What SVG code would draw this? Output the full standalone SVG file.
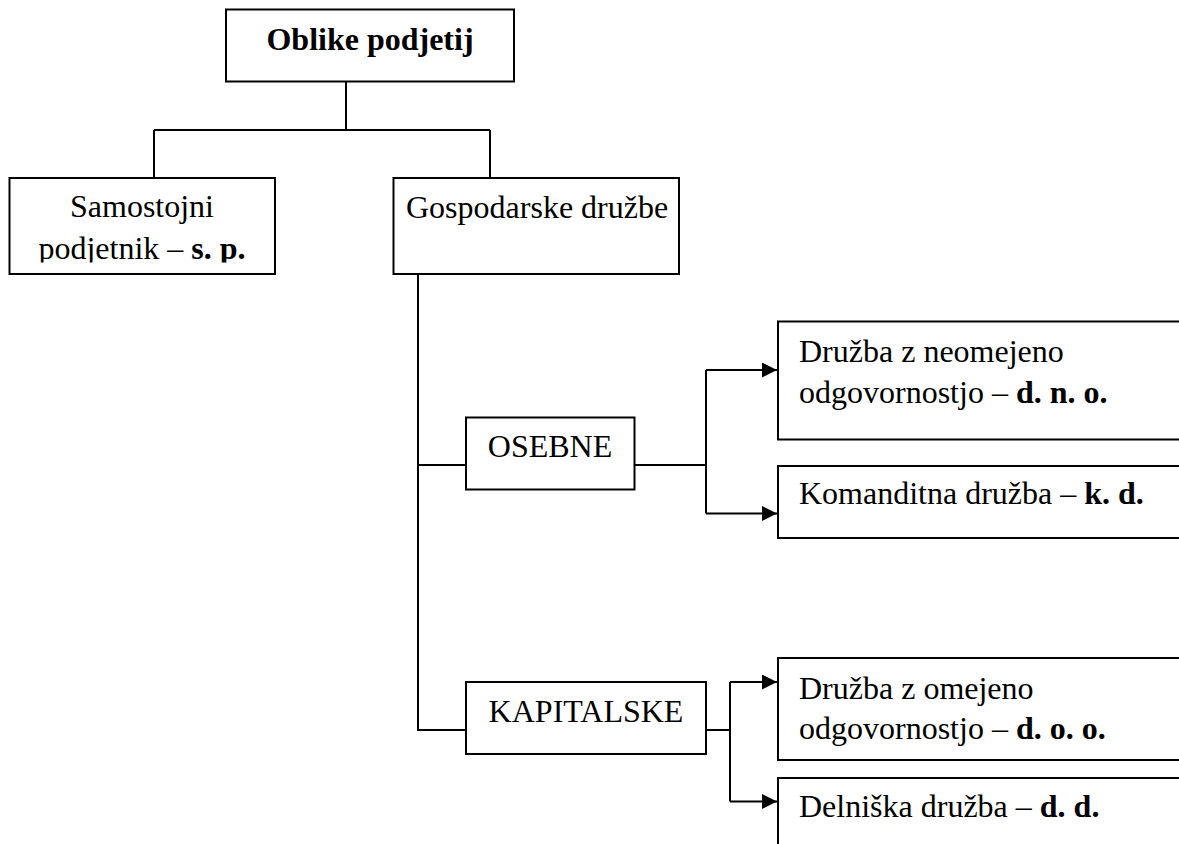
<svg xmlns="http://www.w3.org/2000/svg" width="1179" height="844" viewBox="0 0 1179 844">
  <style>
    .box { fill: #ffffff; stroke: #000000; stroke-width: 2; }
    .con { fill: none; stroke: #000000; stroke-width: 2; }
    .t { font-family: "Liberation Serif", "Times New Roman", serif; font-size: 32px; fill: #000000; }
    .b { font-weight: bold; }
    .c { text-anchor: middle; }
  </style>
  <defs>
    <marker id="arrow" markerUnits="userSpaceOnUse" viewBox="0 0 15 15" refX="15" refY="7.5" markerWidth="15" markerHeight="15" orient="auto">
      <path d="M0,0 L15,7.5 L0,15 Z" fill="#000000"/>
    </marker>
    <clipPath id="clipSp">
      <rect x="10" y="179" width="264" height="83.5"/>
    </clipPath>
  </defs>
  <rect width="1179" height="844" fill="#ffffff"/>

  <g id="connectors">
    <path class="con" d="M346,81.5 V130 M154,130 H490 M154,130 V178 M490,130 V178"/>
    <path class="con" d="M418,274 V730 H466 M418,465 H466"/>
    <path class="con" d="M634.5,465 H706 M706,370 V513.5 M730,682 V801.5 M706,730 H730"/>
    <path class="con" d="M706,370 H777" marker-end="url(#arrow)"/>
    <path class="con" d="M706,513.5 H777" marker-end="url(#arrow)"/>
    <path class="con" d="M730,682 H777" marker-end="url(#arrow)"/>
    <path class="con" d="M730,801.5 H777" marker-end="url(#arrow)"/>
  </g>

  <g id="node-oblike">
    <rect class="box" x="226" y="9.5" width="288" height="72"/>
    <text class="t b c" x="370" y="50">Oblike podjetij</text>
  </g>

  <g id="node-samostojni">
    <rect class="box" x="9.5" y="178" width="265.5" height="96"/>
    <g clip-path="url(#clipSp)">
      <text class="t c" x="142" y="217">Samostojni</text>
      <text class="t c" x="142" y="258.5">podjetnik – <tspan class="b">s. p.</tspan></text>
    </g>
  </g>

  <g id="node-gospodarske">
    <rect class="box" x="393.5" y="178" width="285.5" height="96"/>
    <text class="t" x="406" y="218">Gospodarske družbe</text>
  </g>

  <g id="node-osebne">
    <rect class="box" x="466" y="417.5" width="168.5" height="72"/>
    <text class="t c" x="550" y="457">OSEBNE</text>
  </g>

  <g id="node-kapitalske">
    <rect class="box" x="466" y="682" width="240" height="72"/>
    <text class="t c" x="586" y="721.5">KAPITALSKE</text>
  </g>

  <g id="node-dno">
    <rect class="box" x="778" y="321.5" width="420" height="118"/>
    <text class="t" x="799" y="361.5">Družba z neomejeno</text>
    <text class="t" x="799" y="403">odgovornostjo – <tspan class="b">d. n. o.</tspan></text>
  </g>

  <g id="node-kd">
    <rect class="box" x="778" y="466" width="420" height="72"/>
    <text class="t" x="799" y="504">Komanditna družba – <tspan class="b">k. d.</tspan></text>
  </g>

  <g id="node-doo">
    <rect class="box" x="778" y="658" width="420" height="102"/>
    <text class="t" x="799" y="698.5">Družba z omejeno</text>
    <text class="t" x="799" y="738.5">odgovornostjo – <tspan class="b">d. o. o.</tspan></text>
  </g>

  <g id="node-dd">
    <rect class="box" x="778" y="778" width="420" height="100"/>
    <text class="t" x="799" y="817">Delniška družba – <tspan class="b">d. d.</tspan></text>
  </g>
</svg>
